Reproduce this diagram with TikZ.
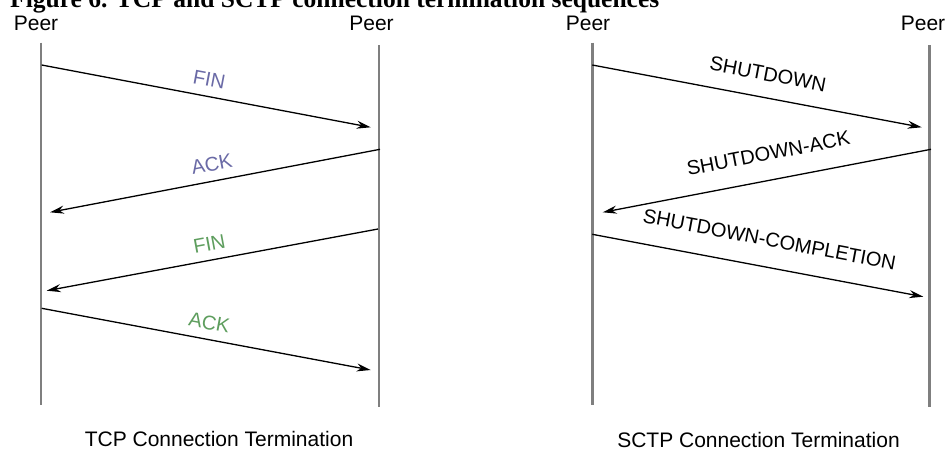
\documentclass[tikz,border=0pt]{standalone}
\usepackage{fontspec}
\setmainfont{Liberation Sans}
\newfontfamily\titlefont{Liberation Serif}
\usetikzlibrary{arrows.meta}
\definecolor{lifegray}{HTML}{7F7F7F}
\definecolor{msgblue}{HTML}{6A6AA6}
\definecolor{msggreen}{HTML}{5E9E5E}
\begin{document}
\begin{tikzpicture}[x=1pt,y=-1pt,
  lifeline/.style={draw=lifegray,line width=2.6pt},
  msg/.style={draw=black,line width=1.3pt,-{Stealth[length=14pt,width=8pt]}},
  lbl/.style={font=\fontsize{20}{20}\selectfont,sloped,above=9pt,inner sep=0pt},
  peer/.style={font=\fontsize{21}{21}\selectfont,inner sep=0pt},
  captext/.style={font=\fontsize{21}{21}\selectfont,inner sep=0pt}]
\useasboundingbox (0,0) rectangle (948,448);
\clip (0,0) rectangle (948,448);
\fill[white] (0,0) rectangle (948,448);
\node[anchor=base west,inner sep=0pt,font=\titlefont\bfseries\fontsize{25.5}{25.5}\selectfont] (title) at (10,7.5) {Figure 6. TCP and SCTP connection termination sequences};
% TCP
\node[peer] (p1) at (36,23) {Peer};
\node[peer] (p2) at (371.5,23) {Peer};
\coordinate (l1t) at (41,42.7); \coordinate (l1b) at (41,405);
\coordinate (r1t) at (379,45); \coordinate (r1b) at (379,406.7);
\draw[lifeline] (l1t) -- (l1b);
\draw[lifeline] (r1t) -- (r1b);
\coordinate (a1s) at (41.7,65); \coordinate (a1e) at (370.7,127.3);
\coordinate (a2s) at (380,149.3); \coordinate (a2e) at (50,212.3);
\coordinate (a3s) at (378,229); \coordinate (a3e) at (46.7,290.7);
\coordinate (a4s) at (41.7,308.3); \coordinate (a4e) at (370.7,370);
\draw[msg] (a1s) -- node[lbl,text=msgblue] (t1) {FIN} (a1e);
\draw[msg] (a2s) -- node[lbl,text=msgblue] (t2) {ACK} (a2e);
\draw[msg] (a3s) -- node[lbl,text=msggreen] (t3) {FIN} (a3e);
\draw[msg] (a4s) -- node[lbl,text=msggreen] (t4) {ACK} (a4e);
\node[captext] (c1) at (219,439) {TCP Connection Termination};
% SCTP
\node[peer] (p3) at (588,23) {Peer};
\node[peer] (p4) at (923,23) {Peer};
\coordinate (l2t) at (592.3,42.7); \coordinate (l2b) at (592.3,405);
\coordinate (r2t) at (929.3,45); \coordinate (r2b) at (929.3,406.7);
\draw[lifeline] (l2t) -- (l2b);
\draw[lifeline] (r2t) -- (r2b);
\coordinate (b1s) at (592.3,65); \coordinate (b1e) at (921.7,127.3);
\coordinate (b2s) at (931,149.3); \coordinate (b2e) at (602.7,212.3);
\coordinate (b3s) at (592.3,234.3); \coordinate (b3e) at (923.3,296.7);
\draw[msg] (b1s) -- node[lbl,above=7pt,pos=0.52] (s1) {SHUTDOWN} (b1e);
\draw[msg] (b2s) -- node[lbl,above=10pt,pos=0.48] (s2) {SHUTDOWN-ACK} (b2e);
\draw[msg] (b3s) -- node[lbl,above=11pt,pos=0.52] (s3) {SHUTDOWN-COMPLETION} (b3e);
\node[captext] (c2) at (758.5,439.5) {SCTP Connection Termination};
\end{tikzpicture}
\end{document}
